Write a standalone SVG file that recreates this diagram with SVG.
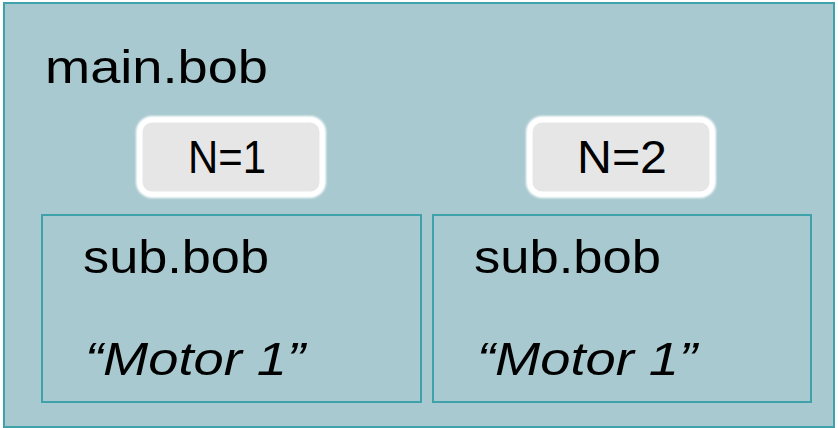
<svg xmlns="http://www.w3.org/2000/svg" width="838" height="428" viewBox="0 0 838 428">
  <defs>
    <filter id="soft" x="-10%" y="-20%" width="120%" height="140%">
      <feGaussianBlur stdDeviation="1.2"/>
    </filter>
  </defs>
  <style>
    .frame { fill: #a7c9cf; stroke: #3fa2aa; stroke-width: 2; }
    .txt { font-family: "Liberation Sans", Arial, sans-serif; fill: #000; font-size: 47px; }
    .it { font-style: italic; }
    .pill-glow { fill: #ffffff; filter: url(#soft); }
    .pill { fill: #e6e6e6; stroke: #ffffff; stroke-width: 5; }
  </style>

  <rect x="0" y="0" width="838" height="428" fill="#ffffff"/>

  <!-- outer program -->
  <g id="main">
    <rect class="frame" x="4" y="3" width="830" height="424"/>
    <text class="txt" x="45" y="83" textLength="223" lengthAdjust="spacingAndGlyphs">main.bob</text>
  </g>

  <!-- first sub-program instance -->
  <g id="sub1">
    <rect class="frame" x="42" y="215" width="379" height="187"/>
    <text class="txt" x="83" y="273" textLength="186" lengthAdjust="spacingAndGlyphs">sub.bob</text>
    <text class="txt it" x="85" y="375" textLength="220" lengthAdjust="spacingAndGlyphs">“Motor 1”</text>
  </g>

  <!-- second sub-program instance -->
  <g id="sub2">
    <rect class="frame" x="433" y="215" width="378" height="187"/>
    <text class="txt" x="474" y="273" textLength="187" lengthAdjust="spacingAndGlyphs">sub.bob</text>
    <text class="txt it" x="477" y="375" textLength="220" lengthAdjust="spacingAndGlyphs">“Motor 1”</text>
  </g>

  <!-- instance labels -->
  <g id="n1">
    <rect class="pill-glow" x="136" y="116" width="190" height="82" rx="16"/>
    <rect class="pill" x="140" y="120" width="182" height="74" rx="12"/>
    <text class="txt" x="188" y="173" textLength="78" lengthAdjust="spacingAndGlyphs">N=1</text>
  </g>
  <g id="n2">
    <rect class="pill-glow" x="526" y="116" width="190" height="82" rx="16"/>
    <rect class="pill" x="530" y="120" width="182" height="74" rx="12"/>
    <text class="txt" x="577" y="173" textLength="90" lengthAdjust="spacingAndGlyphs">N=2</text>
  </g>

  <g id="connectors"/>
</svg>
